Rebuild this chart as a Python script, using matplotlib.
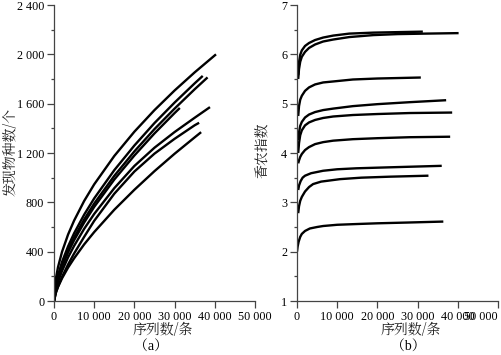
import matplotlib
matplotlib.use("Agg")
import matplotlib.pyplot as plt
from matplotlib.ticker import MultipleLocator

plt.rcParams['font.family'] = ['Liberation Serif', 'Noto Serif CJK SC']
cjk = ['Noto Serif CJK SC', 'Liberation Serif']
mixed = ['Liberation Serif', 'Noto Serif CJK SC']

# (a) species accumulation curves: sequences vs number of species found
seq_grid = [0, 500, 1000, 2000, 3500, 5000, 7500, 10000, 15000, 20000, 25000, 30000, 35000]
species_A = [0, 189, 275, 399, 539, 652, 811, 946, 1176, 1373, 1548, 1707, 1854, 2000]
species_B = [0, 138, 209, 317, 443, 549, 700, 832, 1061, 1261, 1443, 1609, 1765, 1825]
species_C = [0, 123, 189, 291, 412, 514, 661, 790, 1015, 1213, 1394, 1560, 1717, 1813]
species_D = [0, 115, 179, 277, 394, 493, 636, 763, 985, 1180, 1359, 1524, 1565]
species_E = [0, 98, 155, 244, 354, 447, 585, 706, 915, 1095, 1243, 1370, 1486, 1572]
species_F = [0, 71, 118, 196, 296, 385, 520, 650, 870, 1050, 1195, 1315, 1425, 1445]
species_G = [0, 71, 114, 184, 271, 346, 459, 559, 740, 902, 1053, 1194, 1327, 1369]
species_end = {"A": 40300, "B": 37000, "C": 38200, "D": 31300,
               "E": 38800, "F": 36100, "G": 36600}

# (b) Shannon index vs sequences
sh_x1 = [300, 500, 800, 1200, 2000, 3000, 4500, 6500, 9000, 13000, 19000, 25000, 31300]
sh_y1 = [5.58, 5.84, 5.99, 6.08, 6.17, 6.23, 6.29, 6.34, 6.38, 6.42, 6.44, 6.45, 6.46]
sh_x2 = [300, 500, 800, 1200, 2000, 3000, 4500, 6500, 9000, 13000, 19000, 25000, 32000, 40200]
sh_y2 = [5.50, 5.70, 5.85, 5.95, 6.05, 6.13, 6.20, 6.26, 6.30, 6.35, 6.39, 6.41, 6.42, 6.43]
sh_x3 = [300, 500, 800, 1200, 2000, 3000, 4500, 6500, 9000, 13900, 20000, 30800]
sh_y3 = [4.75, 4.95, 5.08, 5.16, 5.26, 5.33, 5.39, 5.43, 5.45, 5.49, 5.51, 5.53]
sh_x4 = [300, 500, 800, 1200, 2000, 3000, 4500, 6500, 9000, 13900, 20000, 28000, 37100]
sh_y4 = [4.26, 4.42, 4.55, 4.63, 4.72, 4.78, 4.83, 4.87, 4.90, 4.95, 4.99, 5.03, 5.07]
sh_x5 = [300, 500, 800, 1200, 2000, 3000, 4500, 6500, 9000, 13900, 20000, 28000, 38600]
sh_y5 = [4.00, 4.20, 4.36, 4.46, 4.56, 4.62, 4.67, 4.71, 4.74, 4.77, 4.79, 4.81, 4.82]
sh_x6 = [300, 500, 800, 1200, 2000, 3000, 4500, 6500, 9000, 13900, 20000, 28000, 38100]
sh_y6 = [3.79, 3.85, 3.92, 3.98, 4.06, 4.12, 4.18, 4.22, 4.25, 4.28, 4.30, 4.32, 4.33]
sh_x7 = [300, 500, 900, 1400, 2000, 3500, 6500, 10000, 14800, 23100, 36000]
sh_y7 = [3.25, 3.34, 3.43, 3.50, 3.54, 3.59, 3.64, 3.67, 3.69, 3.71, 3.74]
sh_x8 = [300, 500, 800, 1200, 2000, 3000, 4000, 6000, 10700, 16000, 23100, 32700]
sh_y8 = [2.78, 2.92, 3.03, 3.11, 3.22, 3.31, 3.37, 3.42, 3.47, 3.50, 3.52, 3.54]
sh_x9 = [0, 150, 400, 800, 1200, 2000, 3200, 5000, 6500, 10000, 14800, 20000, 27300, 36400]
sh_y9 = [2.00, 2.10, 2.20, 2.30, 2.36, 2.42, 2.47, 2.50, 2.52, 2.545, 2.56, 2.575, 2.59, 2.61]

x_ticks = [0, 10000, 20000, 30000, 40000, 50000]
x_labels = ["0", "10 000", "20 000", "30 000", "40 000", "50 000"]
y1_ticks = [0, 400, 800, 1200, 1600, 2000, 2400]
y1_labels = ["0", "400", "800", "1 200", "1 600", "2 000", "2 400"]

fig = plt.figure(figsize=(5.02, 3.55), dpi=100)
ax1 = fig.add_axes([54 / 502, 54 / 355, 201 / 502, 296 / 355])
ax2 = fig.add_axes([297 / 502, 54 / 355, 201 / 502, 296 / 355])

lw = 1.7
for key, ys in zip("ABCDEFG", [species_A, species_B, species_C, species_D,
                               species_E, species_F, species_G]):
    xs = [x for x in seq_grid if x < species_end[key]] + [species_end[key]]
    ax1.plot(xs, ys, color='black', lw=lw, solid_capstyle='butt')

for xs, ys in [(sh_x1, sh_y1), (sh_x2, sh_y2), (sh_x3, sh_y3), (sh_x4, sh_y4),
               (sh_x5, sh_y5), (sh_x6, sh_y6), (sh_x7, sh_y7), (sh_x8, sh_y8),
               (sh_x9, sh_y9)]:
    ax2.plot(xs, ys, color='black', lw=lw, solid_capstyle='butt')

ax1.set_xlim(0, 50000)
ax1.set_ylim(0, 2400)
ax1.set_yticks(y1_ticks, y1_labels)
ax1.yaxis.set_minor_locator(MultipleLocator(200))

ax2.set_xlim(0, 50000)
ax2.set_ylim(1, 7)
ax2.yaxis.set_major_locator(MultipleLocator(1))
ax2.yaxis.set_minor_locator(MultipleLocator(0.5))

for ax in (ax1, ax2):
    ax.set_xticks(x_ticks, x_labels)
    ax.spines['top'].set_visible(False)
    ax.spines['right'].set_visible(False)
    for s in ('left', 'bottom'):
        ax.spines[s].set_color('#444444')
        ax.spines[s].set_linewidth(0.9)
    ax.tick_params(which='major', direction='out', length=5, width=0.9,
                   color='#444444', labelsize=8.7, pad=2)
    ax.tick_params(which='minor', direction='out', length=2.5, width=0.9,
                   color='#444444')
    ax.patch.set_alpha(0)

# last label of (b) sits pushed against the right edge, as in the source figure
ax2.get_xticklabels()[-1].set_horizontalalignment('right')

fig.text(163 / 502, 1 - 330 / 355, "序列数/条", family=cjk, fontsize=10,
         ha='center', va='center', color='#222222')
fig.text(151 / 502, 1 - 347 / 355, "（a）", family=mixed, fontsize=10,
         ha='center', va='center')
fig.text(411 / 502, 1 - 330 / 355, "序列数/条", family=cjk, fontsize=10,
         ha='center', va='center', color='#222222')
fig.text(408 / 502, 1 - 347 / 355, "（b）", family=mixed, fontsize=10,
         ha='center', va='center')
fig.text(11 / 502, 1 - 152 / 355, "发现物种数/个", family=cjk, fontsize=10,
         ha='center', va='center', rotation=90, color='#222222')
fig.text(263 / 502, 1 - 150 / 355, "香农指数", family=cjk, fontsize=10,
         ha='center', va='center', rotation=90, color='#222222')

fig.savefig("out.png", dpi=100)
